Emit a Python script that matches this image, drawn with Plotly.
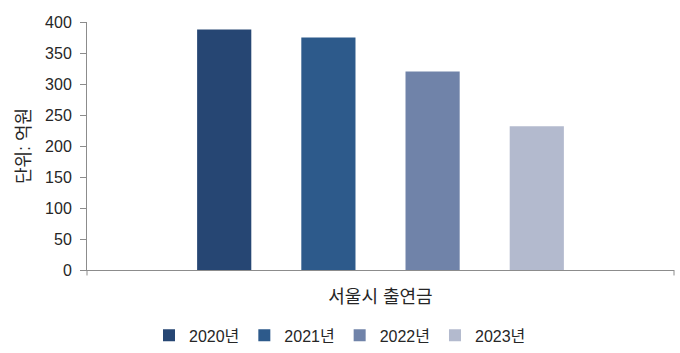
import plotly.graph_objects as go

categories = ["서울시 출연금"]
years = ["2020년", "2021년", "2022년", "2023년"]
values = [388, 375, 320, 232]
colors = ["#264673", "#2D5A8B", "#7083A9", "#B3BACE"]
y_ticks = [0, 50, 100, 150, 200, 250, 300, 350, 400]

FONT = "Liberation Sans, Noto Sans CJK KR, sans-serif"
AXIS = "#8c8c8c"

fig = go.Figure()
for yr, v, c in zip(years, values, colors):
    fig.add_trace(go.Bar(x=categories, y=[v], name=yr, marker=dict(color=c, line=dict(width=0))))

fig.update_layout(
    width=680, height=353,
    margin=dict(l=87, r=6, t=22, b=83),
    paper_bgcolor="white", plot_bgcolor="white",
    barmode="group", bargap=0.29, bargroupgap=0.48,
    font=dict(family=FONT, size=16, color="#262626"),
    showlegend=True,
    legend=dict(orientation="h", xref="container", yref="container",
                x=0.5, xanchor="center", y=0.05, yanchor="middle",
                font=dict(size=16), itemwidth=30, tracegroupgap=0),
    xaxis=dict(showline=True, linecolor=AXIS, linewidth=1, ticks="",
               showgrid=False, ticklabelstandoff=10, tickfont=dict(size=18)),
    yaxis=dict(range=[0, 400], tickvals=y_ticks, showline=True, linecolor=AXIS,
               linewidth=1, ticks="outside", ticklen=6, tickcolor=AXIS,
               showgrid=False, zeroline=False, ticklabelstandoff=5,
               tickfont=dict(size=16),
               title=dict(text="단위: 억원", standoff=9, font=dict(size=18))),
)
# end tick marks of category axis
for xp in (0, 1):
    fig.add_shape(type="line", xref="paper", yref="paper", x0=xp, x1=xp, y0=0, y1=-0.022,
                  line=dict(color=AXIS, width=1))

fig.write_html("out.html")
